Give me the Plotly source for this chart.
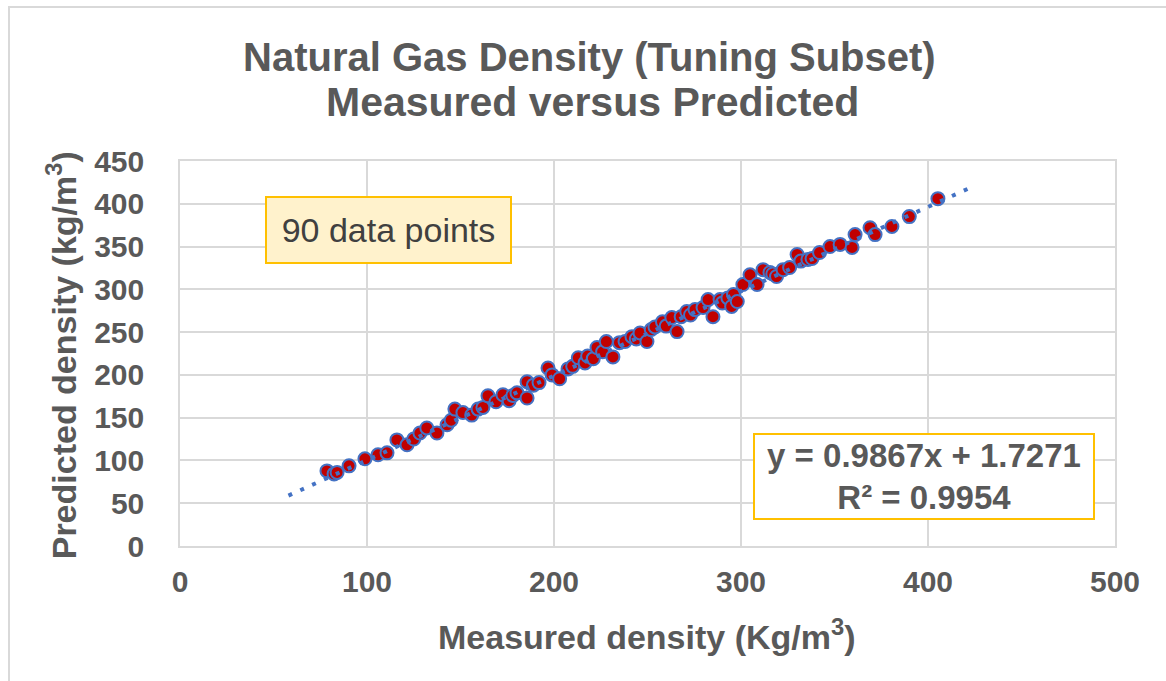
import plotly.graph_objects as go

# Measured vs predicted density (kg/m3)
measured = [78.6, 82.4, 84, 90.4, 98.9, 105.9, 110.7, 116, 121.4, 125, 128.3, 132, 137.4,
            142.8, 145, 147, 151.3, 156, 159.4, 162, 164.7, 169, 172.7, 176, 178, 180.2,
            185.6, 185.6, 189, 192, 196.8, 199, 203, 207.5, 210, 213, 216.6, 218, 221, 223,
            226, 228, 231.5, 235, 238, 241.7, 244, 246, 249.7, 252, 254, 258, 260, 263,
            265.8, 268, 271, 273, 275.4, 279.7, 282.4, 285, 288.8, 290, 293, 295, 296, 298,
            301, 304.8, 308.6, 311.8, 315.5, 317, 319, 322.5, 326, 330, 332, 335.8, 338,
            342, 347.6, 353, 359.4, 361, 369, 371.7, 380.7, 390, 405.3]
predicted = [87.8, 84.3, 86, 93.7, 101.9, 106.6, 108.9, 124, 118.3, 125, 132, 138, 132,
             141.7, 147, 160, 156, 153, 160, 162, 175.6, 168.6, 176.8, 169.8, 176, 179,
             173, 192, 188, 191, 208, 200, 195.5, 207, 210, 220, 214, 222, 219, 232,
             227, 239, 221, 237.7, 239, 244.7, 242, 249, 239, 253, 256, 262, 257, 267,
             250.6, 268, 274, 270, 276.3, 278.7, 288, 268, 288, 284, 290, 280, 294, 285.7,
             305.6, 317, 305.6, 323, 319.7, 318, 315, 323, 325.5, 340.7, 333, 335, 336,
             343, 350, 352.5, 349, 364, 372, 364, 373.5, 385, 406]

# Linear trendline shown in the chart
slope = 0.9867
intercept = 1.7271
trend_x = [58, 422]
trend_y = [slope * v + intercept for v in trend_x]

x_ticks = [0, 100, 200, 300, 400, 500]
y_ticks = [0, 50, 100, 150, 200, 250, 300, 350, 400, 450]

GRAY = "#595959"
FONT = "Liberation Sans, Arial, sans-serif"

fig = go.Figure()
fig.add_trace(go.Scatter(
    x=measured, y=predicted, mode="markers",
    marker=dict(size=13, color="#C00000", line=dict(color="#4472C4", width=2)),
    showlegend=False, hoverinfo="x+y"))
fig.add_trace(go.Scatter(
    x=trend_x, y=trend_y, mode="lines",
    line=dict(color="#4472C4", width=4, dash="4px,9px"),
    showlegend=False, hoverinfo="skip"))

fig.update_layout(
    width=1166, height=681,
    margin=dict(l=180, r=51, t=161, b=135),
    paper_bgcolor="white", plot_bgcolor="white",
    font=dict(family=FONT, color=GRAY),
    xaxis=dict(range=[0, 500], tickvals=x_ticks, showgrid=True, gridcolor="#D9D9D9",
               gridwidth=1.5, zeroline=False, showline=True, linecolor="#D9D9D9",
               linewidth=1.5, mirror=True, ticks="", ticklabelstandoff=8,
               tickfont=dict(size=30, weight="bold", color=GRAY, family=FONT)),
    yaxis=dict(range=[0, 450], tickvals=y_ticks, showgrid=True, gridcolor="#D9D9D9",
               gridwidth=1.5, zeroline=False, showline=True, linecolor="#D9D9D9",
               linewidth=1.5, mirror=True, ticks="", ticklabelstandoff=28,
               tickfont=dict(size=30, weight="bold", color=GRAY, family=FONT)),
)

def A(**kw):
    d = dict(xref="paper", yref="paper", showarrow=False, xanchor="center", yanchor="middle")
    d.update(kw)
    return d

ann = [
    A(text="Natural Gas Density (Tuning Subset)", x=0.4385, y=1.270,
      font=dict(size=40, weight="bold", color=GRAY, family=FONT)),
    A(text="Measured versus Predicted", x=0.4415, y=1.153,
      font=dict(size=41, weight="bold", color=GRAY, family=FONT)),
    A(text="Measured density (Kg/m<sup>3</sup>)", x=0.4995, y=-0.2286,
      font=dict(size=34, weight="bold", color=GRAY, family=FONT)),
    A(text="Predicted density (kg/m<sup>3</sup>)", x=-0.127, y=0.496, textangle=-90,
      font=dict(size=34, weight="bold", color=GRAY, family=FONT)),
    A(text="90 data points", x=0.2225, y=0.821,
      bgcolor="#FFF2CC", bordercolor="#FFC000", borderwidth=2,
      width=235, height=56, borderpad=4,
      font=dict(size=34, color="#404040", family=FONT)),
    A(text="y = 0.9867x + 1.7271<br>R² = 0.9954", x=0.7957, y=0.1805,
      bgcolor="white", bordercolor="#FFC000", borderwidth=2, width=330, height=75,
      borderpad=4, font=dict(size=33, weight="bold", color=GRAY, family=FONT)),
]
fig.update_layout(annotations=ann)

# outer chart frame
fig.add_shape(type="rect", xref="paper", yref="paper", x0=-0.1829, y0=-0.4, x1=1.2, y1=1.4,
              line=dict(color="#D9D9D9", width=2), fillcolor="rgba(0,0,0,0)", layer="below")

fig.write_html("out.html", config={"displayModeBar": False},
               post_script="document.body.style.margin='0';document.body.style.overflow='hidden';")
